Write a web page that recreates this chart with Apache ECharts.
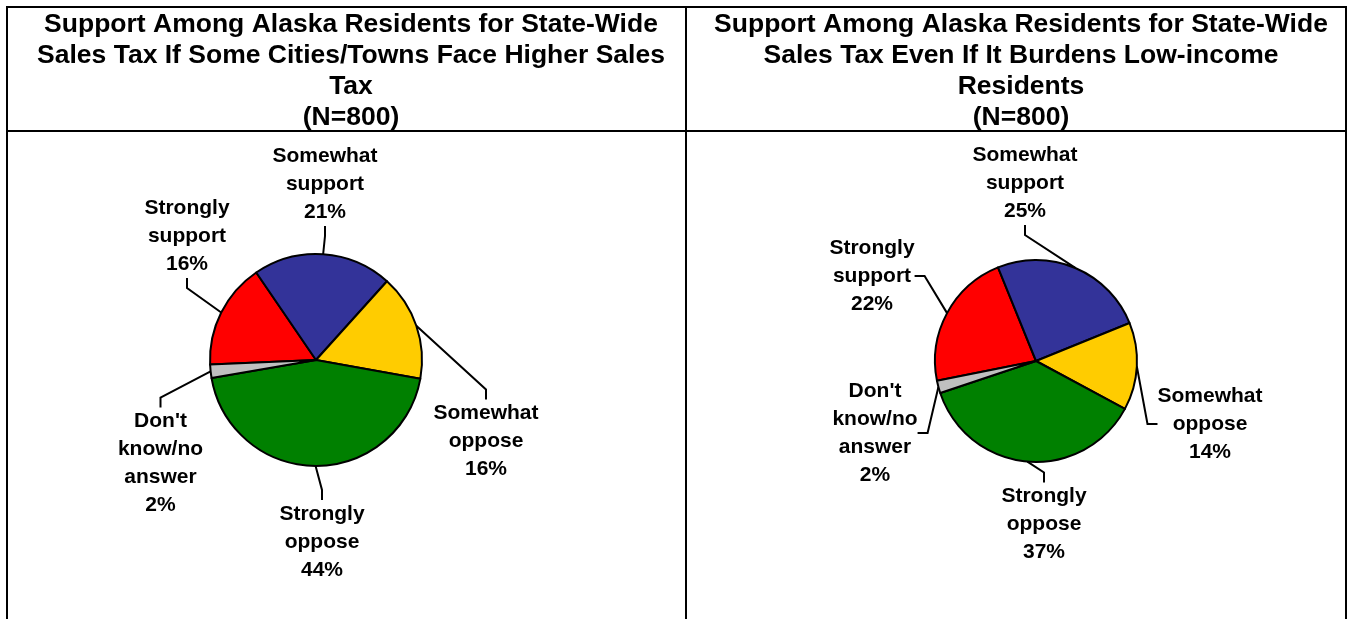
<!DOCTYPE html>
<html><head><meta charset="utf-8">
<script src="https://cdn.jsdelivr.net/npm/echarts@6/dist/echarts.min.js"></script>
<style>html,body{margin:0;padding:0;background:#fff}#c{width:1348px;height:619px}</style>
</head><body><div id="c"></div>
<script>
const categories = ['Strongly support', 'Somewhat support', 'Somewhat oppose', 'Strongly oppose', "Don't know/no answer"];
const labelNames = ['Strongly\nsupport', 'Somewhat\nsupport', 'Somewhat\noppose', 'Strongly\noppose', "Don't\nknow/no\nanswer"];
const cityTaxValues = [16, 21, 16, 44, 2];
const lowIncomeValues = [22, 25, 14, 37, 2];
const titleLeft = 'Support Among Alaska Residents for State-Wide\nSales Tax If Some Cities/Towns Face Higher Sales\nTax\n(N=800)';
const titleRight = 'Support Among Alaska Residents for State-Wide\nSales Tax Even If It Burdens Low-income\nResidents\n(N=800)';
const colors = ['#FF0000', '#333399', '#FFCC00', '#008000', '#C0C0C0'];

const FONT = "'Liberation Sans', Arial, sans-serif";
const pies = [
  { values: cityTaxValues, cx: 316, cy: 360, r: 106, start: 182.5,
    offs: [[-129, -124], [9, -176], [170, 81.5], [6, 182], [-155.5, 103.5]] },
  { values: lowIncomeValues, cx: 1036, cy: 361, r: 101, start: 191.3,
    offs: [[-164, -85], [-11, -178], [174, 63], [8, 163.5], [-161, 72]] }
];

const chart = echarts.init(document.getElementById('c'));
const line = (x1, y1, x2, y2) => ({ type: 'line', shape: { x1, y1, x2, y2 }, style: { stroke: '#000', lineWidth: 2 }, silent: true });

const option = {
  animation: false,
  backgroundColor: '#fff',
  title: [
    { text: titleLeft, left: 346, top: 4, textAlign: 'center',
      textStyle: { fontFamily: FONT, fontWeight: 'bold', fontSize: 26.5, lineHeight: 31, color: '#000', align: 'center' } },
    { text: titleRight, left: 1016, top: 4, textAlign: 'center',
      textStyle: { fontFamily: FONT, fontWeight: 'bold', fontSize: 26.5, lineHeight: 31, color: '#000', align: 'center' } }
  ],
  graphic: [
    line(6, 7, 1347, 7),
    line(7, 6, 7, 619),
    line(686, 6, 686, 619),
    line(1346, 6, 1346, 619),
    line(6, 131, 1347, 131)
  ],
  series: pies.map(p => ({
    type: 'pie',
    center: [p.cx, p.cy],
    radius: p.r,
    startAngle: p.start,
    clockwise: true,
    avoidLabelOverlap: false,
    itemStyle: { borderColor: '#000', borderWidth: 2 },
    emphasis: { disabled: true },
    label: {
      show: true, position: 'outside',
      fontFamily: FONT, fontWeight: 'bold', fontSize: 21, lineHeight: 28, color: '#000', align: 'center',
      formatter: d => labelNames[d.dataIndex] + '\n' + d.value + '%'
    },
    labelLine: { show: true, length: 10, length2: 10, smooth: false, lineStyle: { color: '#000', width: 2 } },
    labelLayout: d => ({
      x: p.cx + p.offs[d.dataIndex][0],
      y: p.cy + p.offs[d.dataIndex][1],
      align: 'center', verticalAlign: 'middle'
    }),
    data: categories.map((c, i) => ({ name: c, value: p.values[i], itemStyle: { color: colors[i] } }))
  }))
};
chart.setOption(option);
</script>
</body></html>
